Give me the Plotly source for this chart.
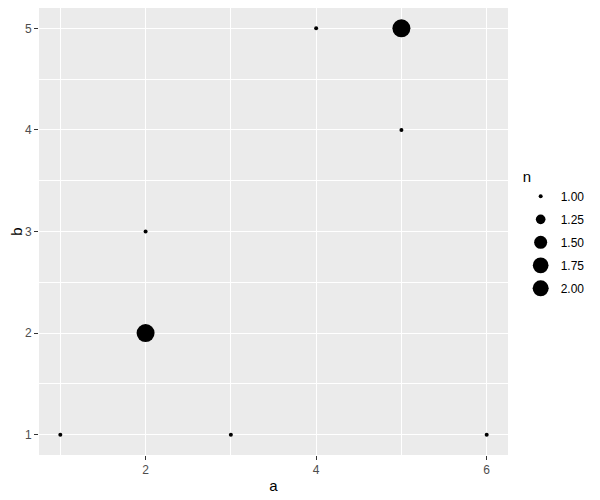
import numpy as np
import plotly.graph_objects as go

a = [1, 2, 2, 3, 4, 5, 5, 6]
b = [1, 2, 3, 1, 5, 5, 4, 1]
n = [1, 2, 1, 1, 1, 2, 1, 1]
legend_n = [1.00, 1.25, 1.50, 1.75, 2.00]

# area scale like ggplot's scale_size: diameter 4px at n=1 up to 18px at n=2
d_min, d_max = 4.0, 18.0
def size_of(v):
    t = (np.asarray(v, dtype=float) - 1.0) / (2.0 - 1.0)
    return np.sqrt(d_min**2 + t * (d_max**2 - d_min**2))

fig = go.Figure()
fig.add_trace(go.Scatter(x=a, y=b, mode="markers",
                         marker=dict(color="black", size=size_of(n), opacity=1, line=dict(width=0)),
                         showlegend=False, hoverinfo="x+y"))

# legend keys
for v, s in zip(legend_n, size_of(legend_n)):
    fig.add_trace(go.Scatter(x=[None], y=[None], mode="markers", name=f"{v:.2f}",
                             legendgroup=f"{v:.2f}",
                             marker=dict(color="black", size=float(s), opacity=1, line=dict(width=0))))

font = "Liberation Sans, Arial, sans-serif"
axis = dict(showline=False, zeroline=False, gridcolor="white", gridwidth=1.2,
            ticks="outside", ticklen=4, tickwidth=1, tickcolor="#333333",
            tickfont=dict(size=12, color="#4d4d4d", family=font),
            title_font=dict(size=15, color="black", family=font))

# page body has an 8px margin, so the figure is a bit smaller than the window
fig.update_layout(
    width=592, height=492,
    paper_bgcolor="white", plot_bgcolor="#ebebeb",
    margin=dict(l=31, r=92, t=0, b=45),
    font=dict(family=font),
    xaxis=dict(axis, range=[0.75, 6.25], tick0=2, dtick=2, title=dict(text="a", standoff=4),
               minor=dict(tick0=1, dtick=2, showgrid=True, gridcolor="white", gridwidth=0.6, ticks="")),
    yaxis=dict(axis, range=[0.8, 5.2], tick0=1, dtick=1, title=dict(text="b", standoff=6),
               minor=dict(tick0=0.5, dtick=1, showgrid=True, gridcolor="white", gridwidth=0.6, ticks="")),
    legend=dict(x=1.027, y=0.497, xanchor="left", yanchor="middle",
                title=dict(text="n", font=dict(size=15, family=font)),
                font=dict(size=12, color="black", family=font),
                tracegroupgap=4, itemsizing="trace"),
)

fig.write_html("out.html")
